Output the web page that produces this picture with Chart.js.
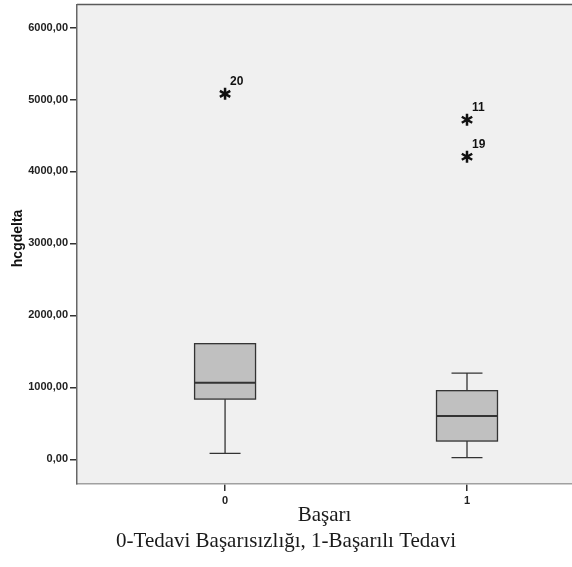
<!DOCTYPE html>
<html>
<head>
<meta charset="utf-8">
<script src="https://cdn.jsdelivr.net/npm/chart.js@4.4.1/dist/chart.umd.min.js"></script>
<style>
  html, body { margin: 0; padding: 0; background: #fff; }
  #wrap { width: 572px; height: 567px; }
</style>
</head>
<body>
<div id="wrap"><canvas id="chart" width="572" height="567"></canvas></div>
<script>
// values
const categories = ['0', '1'];
const whiskerLow = [83, 23];
const q1 = [837, 254];
const median = [1065, 601];
const q3 = [1607, 954];
const whiskerHigh = [1607, 1199];
const outlierValues = [[5079], [4718, 4204]];
const outlierIds = [['20'], ['11', '19']];
const yTicks = [0, 1000, 2000, 3000, 4000, 5000, 6000];

const sans = "'Liberation Sans', Arial, sans-serif";
const serif = "'Liberation Serif', 'Times New Roman', serif";
const boxHalf = 0.126;
const capHalf = 0.064;

const outlierPoints = [];
outlierValues.forEach((vals, i) => vals.forEach((v, j) => {
    outlierPoints.push({ x: i, y: v, id: outlierIds[i][j] });
}));

const boxPlugin = {
    id: 'boxes',
    beforeDraw(chart) {
        const { ctx, chartArea } = chart;
        ctx.save();
        ctx.fillStyle = '#f0f0f0';
        ctx.fillRect(chartArea.left, chartArea.top, chartArea.right - chartArea.left, chartArea.bottom - chartArea.top);
        ctx.strokeStyle = '#5a5a5a';
        ctx.lineWidth = 1.5;
        ctx.beginPath();
        ctx.moveTo(chartArea.left, chartArea.top);
        ctx.lineTo(chartArea.right, chartArea.top);
        ctx.stroke();
        ctx.restore();
    },
    afterDatasetsDraw(chart) {
        const { ctx, scales: { x, y } } = chart;
        ctx.save();
        ctx.strokeStyle = '#333';
        categories.forEach((c, i) => {
            const xc = x.getPixelForValue(i);
            const xl = x.getPixelForValue(i - boxHalf);
            const xr = x.getPixelForValue(i + boxHalf);
            const cl = x.getPixelForValue(i - capHalf);
            const cr = x.getPixelForValue(i + capHalf);
            const yLo = y.getPixelForValue(whiskerLow[i]);
            const yQ1 = y.getPixelForValue(q1[i]);
            const yMed = y.getPixelForValue(median[i]);
            const yQ3 = y.getPixelForValue(q3[i]);
            const yHi = y.getPixelForValue(whiskerHigh[i]);

            // whiskers
            ctx.lineWidth = 1.3;
            ctx.beginPath();
            ctx.moveTo(xc, yQ1); ctx.lineTo(xc, yLo);
            ctx.moveTo(cl, yLo); ctx.lineTo(cr, yLo);
            if (whiskerHigh[i] > q3[i]) {
                ctx.moveTo(xc, yQ3); ctx.lineTo(xc, yHi);
                ctx.moveTo(cl, yHi); ctx.lineTo(cr, yHi);
            }
            ctx.stroke();

            // box
            ctx.fillStyle = '#c0c0c0';
            ctx.fillRect(xl, yQ3, xr - xl, yQ1 - yQ3);
            ctx.lineWidth = 1.3;
            ctx.strokeRect(xl, yQ3, xr - xl, yQ1 - yQ3);

            // median
            ctx.lineWidth = 2;
            ctx.beginPath();
            ctx.moveTo(xl, yMed); ctx.lineTo(xr, yMed);
            ctx.stroke();
        });

        // outliers drawn as asterisks with case numbers
        ctx.strokeStyle = '#111';
        ctx.fillStyle = '#111';
        ctx.lineWidth = 2.5;
        ctx.font = 'bold 12px ' + sans;
        ctx.textAlign = 'left';
        ctx.textBaseline = 'middle';
        outlierPoints.forEach(p => {
            const px = x.getPixelForValue(p.x);
            const py = y.getPixelForValue(p.y);
            const r = 6;
            ctx.beginPath();
            [90, 30, 150].forEach(a => {
                const rad = a * Math.PI / 180;
                ctx.moveTo(px - r * Math.cos(rad), py - r * Math.sin(rad));
                ctx.lineTo(px + r * Math.cos(rad), py + r * Math.sin(rad));
            });
            ctx.stroke();
            ctx.fillText(p.id, px + 5, py - 12);
        });
        ctx.restore();
    },
    afterDraw(chart) {
        const { ctx } = chart;
        ctx.save();
        ctx.fillStyle = '#1a1a1a';
        ctx.font = '21px ' + serif;
        ctx.textAlign = 'center';
        ctx.textBaseline = 'alphabetic';
        ctx.fillText('0-Tedavi Başarısızlığı, 1-Başarılı Tedavi', 286, 547);
        ctx.restore();
    }
};

new Chart(document.getElementById('chart'), {
    type: 'scatter',
    data: {
        datasets: [{
            data: outlierPoints,
            pointRadius: 0,
            pointHoverRadius: 0
        }]
    },
    options: {
        responsive: false,
        animation: false,
        layout: { padding: { top: 4.5, left: 0, right: 0, bottom: 0 } },
        plugins: {
            legend: { display: false },
            tooltip: { enabled: false }
        },
        scales: {
            x: {
                type: 'linear',
                min: -0.612,
                max: 1.434,
                afterBuildTicks: (scale) => { scale.ticks = categories.map((c, i) => ({ value: i })); },
                afterFit: (scale) => { scale.height = 83; scale.paddingLeft = 0; scale.paddingRight = 0; },
                border: { display: true, color: '#a0a0a0', width: 1.5 },
                grid: { drawOnChartArea: false, drawTicks: true, tickLength: 7, color: '#333', lineWidth: 1.5 },
                ticks: {
                    padding: 3,
                    color: '#222',
                    font: { family: sans, size: 11, weight: 'bold' },
                    callback: (v) => categories[v]
                },
                title: {
                    display: true,
                    text: 'Başarı',
                    color: '#1a1a1a',
                    font: { family: serif, size: 21 },
                    padding: { top: 0, bottom: 39 }
                }
            },
            y: {
                min: -343,
                max: 6320,
                afterBuildTicks: (scale) => { scale.ticks = yTicks.map(v => ({ value: v })); },
                afterFit: (scale) => { scale.width = 77; scale.paddingTop = 0; scale.paddingBottom = 0; },
                border: { display: true, color: '#666', width: 1.5 },
                grid: { drawOnChartArea: false, drawTicks: true, tickLength: 7, color: '#333', lineWidth: 1.5 },
                ticks: {
                    padding: 2,
                    color: '#222',
                    font: { family: sans, size: 11, weight: 'bold' },
                    callback: (v) => v.toFixed(2).replace('.', ',')
                },
                title: {
                    display: true,
                    text: '   hcgdelta',
                    color: '#111',
                    font: { family: sans, size: 14, weight: 'bold' },
                    padding: { top: 10, bottom: 0 }
                }
            }
        }
    },
    plugins: [boxPlugin]
});
</script>
</body>
</html>
